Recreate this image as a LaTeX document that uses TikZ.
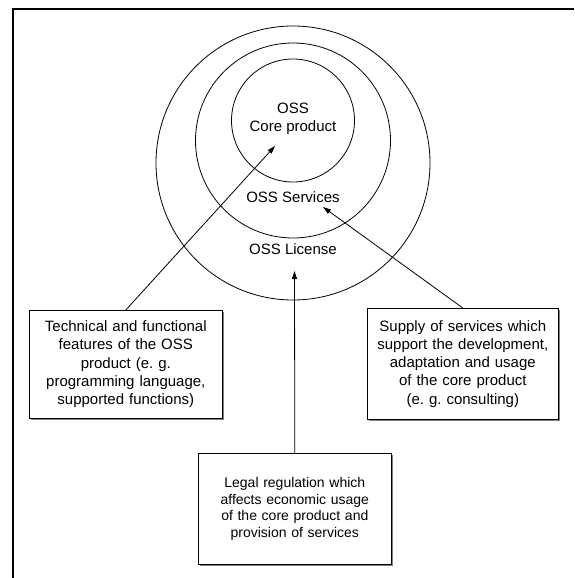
\documentclass[tikz,border=0pt]{standalone}
\usepackage{fontspec}
\setmainfont{Liberation Sans}
\frenchspacing
\usetikzlibrary{arrows.meta,shadows}
\tikzset{
  ring/.style={
      draw,
      circle,
      line width=0.8pt,
      inner sep=0pt
  },
  ringtext/.style={
      align=center,
      font=\fontsize{15}{18}\selectfont
  },
  infobox/.style={
      draw,
      rectangle,
      fill=white,
      line width=0.6pt,
      align=center,
      anchor=north west,
      inner xsep=5pt,
      text width=#1,
      font=\fontsize{15}{18.3}\selectfont,
      drop shadow={shadow xshift=1.2pt,shadow yshift=-1.2pt,fill=gray,opacity=1}
  },
  pointer/.style={
      -{Triangle[length=8pt,width=5pt]},
      line width=0.8pt
  }
}

\begin{document}
\begin{tikzpicture}[x=1pt,y=-1pt]
	\useasboundingbox (0,0) rectangle (574,578);
	\draw[line width=2pt] (13,578) -- (13,9) -- (574,9);
	\node[ring,minimum size=274] (license) at (293,163) {};
	\node[ring,minimum size=195] (services) at (293,140.5) {};
	\node[ring,minimum size=123] (core) at (293,120.5) {};
	\node[ringtext] (coretext) at (293,119) {OSS\\Core product};
	\node[ringtext] (servtext) at (293,197) {OSS Services};
	\node[ringtext] (lictext) at (293,249) {OSS License};
	\node[infobox=183pt,minimum height=108] (tech) at (29,310)
		{Technical and functional\\features of the OSS\\product (e. g.\\programming language,\\supported functions)};
	\node[infobox=181pt,minimum height=111] (supply) at (367,308)
		{Supply of services which\\support the development,\\adaptation and usage\\of the core product\\(e. g. consulting)};
	\node[infobox=183pt,minimum height=111,font=\fontsize{14}{16.5}\selectfont] (legal) at (198,453)
		{Legal regulation which\\affects economic usage\\of the core product and\\provision of services};
	\coordinate (coretip) at (275,146);
	\coordinate (servtip) at (323,207);
	\coordinate (lictip) at (294.5,271);
	\draw[pointer] (tech.north) -- (coretip);
	\draw[pointer] (supply.north) -- (servtip);
	\draw[pointer] (legal.north) -- (lictip);
\end{tikzpicture}
\end{document}
